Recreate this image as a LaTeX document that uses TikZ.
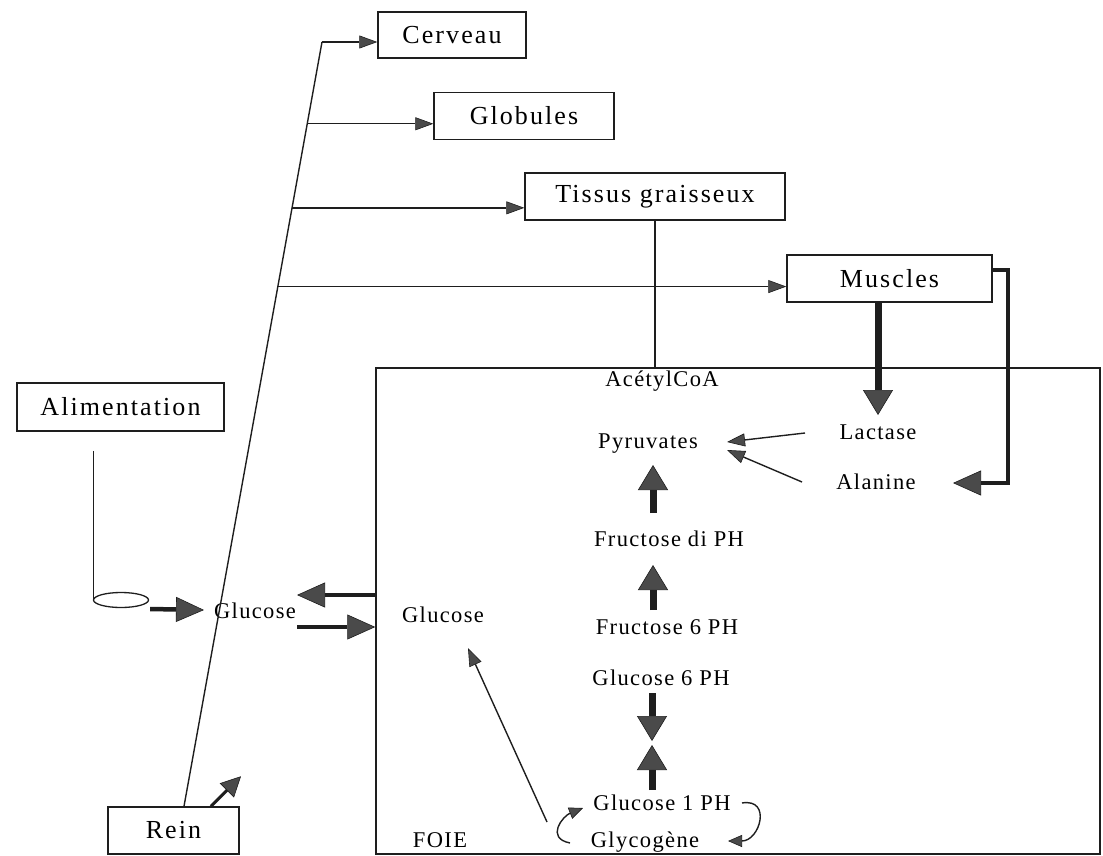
\documentclass[tikz,border=0pt]{standalone}
\usepackage{fontspec}
\usetikzlibrary{arrows.meta,calc,shapes.geometric}
\newfontfamily\boxfnt[LetterSpace=8]{Liberation Serif}
\newfontfamily\labfnt[LetterSpace=6]{Liberation Serif}
\definecolor{ink}{HTML}{1E1E1E}
\definecolor{headc}{HTML}{4A4A4A}
\begin{document}
\begin{tikzpicture}[x=1pt,y=-1pt,
  box/.style={draw=ink, line width=1.5pt, inner sep=0pt, font=\boxfnt\fontsize{26pt}{30pt}\selectfont},
  lab/.style={inner sep=1pt, text height=17pt, text depth=4pt, font=\labfnt\fontsize{22.5pt}{26pt}\selectfont},
  plainline/.style={draw=ink, line width=1.4pt},
  thinarr/.style={draw=ink, line width=1.4pt, -{Triangle[length=18pt,width=13pt,line width=0.6pt,fill=headc]}},
  smallarr/.style={draw=ink, line width=1.4pt, -{Triangle[length=14pt,width=12pt,line width=0.6pt,fill=headc]}},
  bigarr/.style={draw=ink, line width=7pt, -{Triangle[length=25pt,width=30pt,line width=0.6pt,fill=headc]}},
  medarr/.style={draw=ink, line width=4.5pt, -{Triangle[length=28pt,width=25pt,line width=0.6pt,fill=headc]}},
  reinarr/.style={draw=ink, line width=3pt, -{Triangle[length=20pt,width=20pt,line width=0.6pt,fill=headc]}}]
\useasboundingbox (0,0) rectangle (1103,856);

% boxes
\node[box, minimum width=148pt, minimum height=46pt] (cerv) at (452,35) {Cerveau};
\node[box, minimum width=180pt, minimum height=47pt] (glob) at (524,116) {Globules};
\node[box, minimum width=260pt, minimum height=47pt] (tis) at (655,196.5) {Tissus graisseux};
\node[box, minimum width=205pt, minimum height=47pt] (musc) at (889.5,278.5) {Muscles};
\node[box, minimum width=207pt, minimum height=48pt] (ali) at (120.5,407) {Alimentation};
\node[box, minimum width=131pt, minimum height=47pt] (rein) at (173.5,830.5) {Rein};
\node[draw=ink, line width=1.5pt, minimum width=724pt, minimum height=486pt, inner sep=0pt] (foie) at (738,611) {};

% labels
\node[lab] (acoa) at (662,380) {AcétylCoA};
\node[lab] (pyr) at (648,442) {Pyruvates};
\node[lab] (lact) at (878,433) {Lactase};
\node[lab] (ala) at (876,483) {Alanine};
\node[lab] (fdp) at (669,540) {Fructose di PH};
\node[lab] (f6p) at (667,628) {Fructose 6 PH};
\node[lab] (g6p) at (661,679) {Glucose 6 PH};
\node[lab] (g1p) at (662,804) {Glucose 1 PH};
\node[lab] (glyco) at (645,841) {Glycogène};
\node[lab] (foiel) at (440,841) {FOIE};
\node[lab] (gluin) at (443,616) {Glucose};
\node[lab] (gluout) at (255,612) {Glucose};
\node[draw=ink, line width=1.3pt, ellipse, minimum width=55pt, minimum height=15pt, inner sep=0pt] (ell) at (121,600) {};

% blood line from Rein
\coordinate (rt) at ($(rein.north)+(10.5,0)$);
\coordinate (ct) at (322,42);
\coordinate (b1) at ($(rt)!0.893!(ct)$);
\coordinate (b2) at ($(rt)!0.783!(ct)$);
\coordinate (b3) at ($(rt)!0.680!(ct)$);
\draw[plainline] (rt) -- (ct);
\draw[thinarr] (ct) -- (ct -| cerv.west);
\draw[thinarr] (b1) -- (b1 -| glob.west);
\draw[thinarr] (b2) -- (b2 -| tis.west);
\draw[thinarr] (b3) -- (b3 -| musc.west);
\coordinate (ru) at ($(rein.north)+(67.5,-30)$);
\draw[reinarr] ($(rein.north)+(37.5,0)$) -- (ru);

% Alimentation
\coordinate (alib) at ($(ali.south)+(-27,19)$);
\draw[plainline] (alib) -- (alib |- ell.west);
\draw[medarr] ($(ell.east)+(1,9)$) -- ($(gluout)+(-51,-2)$);
\draw[medarr] ($(foie.west)+(0,-16)$) -- ($(gluout)+(42,-17)$);
\draw[medarr] ($(gluout)+(42,15)$) -- ($(foie.west)+(0,16)$);

% Tissus to AcetylCoA
\draw[plainline] (tis.south) -- (tis.south |- foie.north);

% Muscles
\draw[bigarr] (musc.south -| lact) -- ($(lact)+(0,-18)$);
\draw[draw=ink, line width=4pt, -{Triangle[length=28pt,width=25pt,line width=0.6pt,fill=headc]}]
  ($(musc.east)+(0,-8.5)$) -| ($(ala)+(132,0)$) -- ($(ala)+(77,0)$);

% to pyruvates
\draw[thinarr] ($(lact)+(-73,0)$) -- ($(pyr)+(79,0)$);
\draw[thinarr] ($(ala)+(-74,-1)$) -- ($(pyr)+(79,8)$);

% central chain
\draw[bigarr] ($(fdp)+(-16,-27)$) -- ($(pyr)+(5,23)$);
\draw[bigarr] ($(f6p)+(-14,-18)$) -- ($(fdp)+(-16,25)$);
\draw[bigarr] ($(g6p)+(-9,14)$) -- ($(g6p)+(-9,62)$);
\draw[bigarr] ($(g1p)+(-10,-14)$) -- ($(g1p)+(-10,-59)$);

% glycogen loops
\draw[smallarr] ($(g1p)+(80,-1)$) .. controls ($(g1p)+(110,-6)$) and ($(glyco)+(115,0)$) .. ($(glyco)+(83,0)$);
\draw[smallarr] ($(glyco)+(-75,2)$) .. controls ($(glyco)+(-100,-3)$) and ($(g1p)+(-99,12)$) .. ($(g1p)+(-79,4)$);
\coordinate (gl) at ($(glyco)+(-98,-19)$);
\draw[thinarr] (gl) -- ($(gluin)+(25,32)$);
\end{tikzpicture}
\end{document}
